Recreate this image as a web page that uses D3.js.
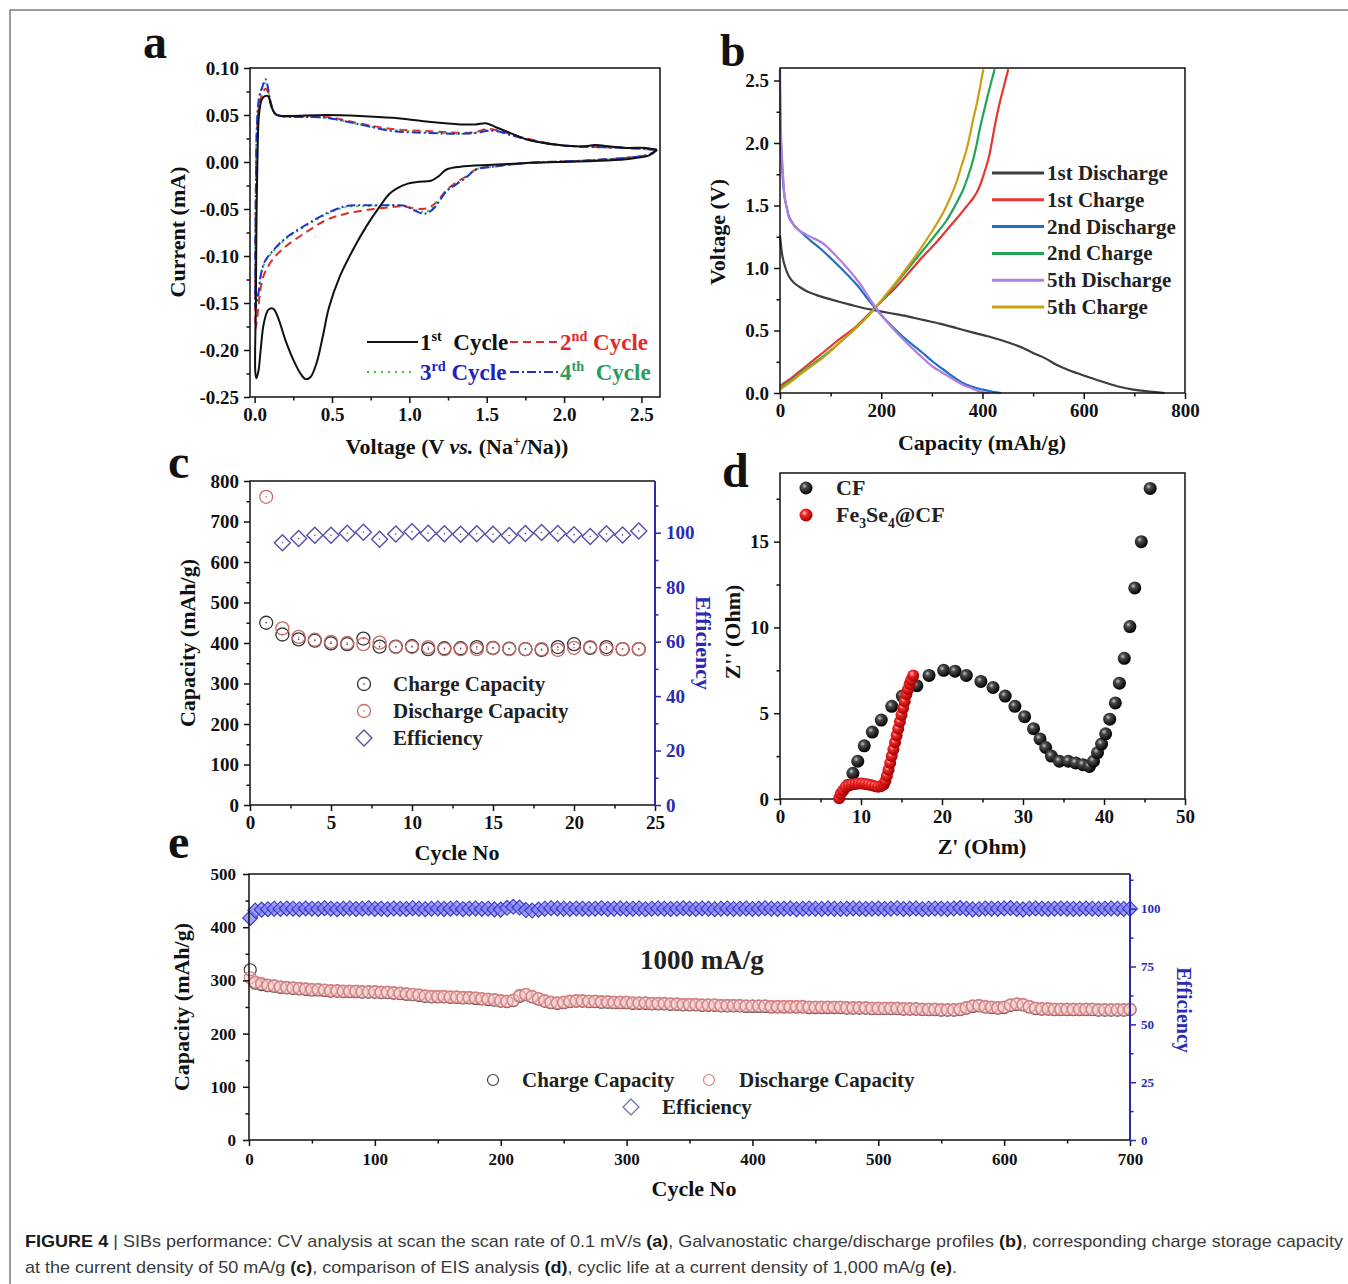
<!DOCTYPE html>
<html>
<head>
<meta charset="utf-8">
<script src="https://cdn.jsdelivr.net/npm/d3@7"></script>
<style>body{margin:0;background:#fff}</style>
</head>
<body>
<script>
// ---------- (a) CV curves, [voltage V, current mA] ----------
const cvCycle1 = [[2.60,0.013],[2.55,0.007],[2.40,0.003],[2.19,0.001],[1.96,0.0],[1.76,-0.001],[1.54,-0.003],[1.33,-0.005],[1.24,-0.008],[1.19,-0.015],[1.14,-0.020],[1.06,-0.021],[0.99,-0.023],[0.92,-0.028],[0.87,-0.034],[0.81,-0.047],[0.72,-0.069],[0.64,-0.092],[0.55,-0.122],[0.48,-0.155],[0.44,-0.186],[0.40,-0.214],[0.36,-0.229],[0.33,-0.231],[0.30,-0.226],[0.26,-0.214],[0.20,-0.190],[0.15,-0.165],[0.12,-0.156],[0.09,-0.157],[0.06,-0.171],[0.04,-0.198],[0.025,-0.222],[0.012,-0.230],[0.005,-0.225],[0.008,-0.150],[0.012,-0.060],[0.018,0.0],[0.028,0.050],[0.045,0.066],[0.065,0.070],[0.088,0.070],[0.108,0.059],[0.14,0.050],[0.20,0.049],[0.46,0.050],[0.68,0.049],[0.89,0.047],[1.11,0.043],[1.33,0.040],[1.43,0.040],[1.50,0.041],[1.56,0.037],[1.65,0.031],[1.76,0.024],[1.97,0.018],[2.12,0.0165],[2.20,0.018],[2.30,0.0165],[2.40,0.015],[2.53,0.015],[2.60,0.013]];
const cvCycle2 = [[2.60,0.013],[2.55,0.008],[2.19,0.002],[1.76,-0.001],[1.54,-0.005],[1.43,-0.008],[1.37,-0.015],[1.30,-0.022],[1.24,-0.030],[1.20,-0.038],[1.16,-0.045],[1.12,-0.049],[1.08,-0.050],[1.02,-0.049],[0.95,-0.047],[0.88,-0.048],[0.77,-0.050],[0.59,-0.055],[0.46,-0.062],[0.33,-0.075],[0.20,-0.090],[0.12,-0.103],[0.065,-0.118],[0.04,-0.133],[0.026,-0.152],[0.015,-0.168],[0.006,-0.178],[0.004,-0.150],[0.008,-0.040],[0.015,0.030],[0.03,0.062],[0.05,0.072],[0.07,0.078],[0.085,0.075],[0.10,0.065],[0.13,0.052],[0.17,0.049],[0.46,0.048],[0.68,0.041],[0.89,0.035],[1.11,0.033],[1.33,0.031],[1.43,0.032],[1.50,0.035],[1.56,0.034],[1.65,0.030],[1.76,0.025],[1.97,0.018],[2.19,0.016],[2.40,0.015],[2.60,0.013]];
const cvCycle3 = [[2.60,0.013],[2.55,0.008],[2.19,0.002],[1.76,-0.001],[1.54,-0.005],[1.43,-0.008],[1.37,-0.016],[1.30,-0.023],[1.24,-0.031],[1.20,-0.039],[1.16,-0.047],[1.12,-0.052],[1.09,-0.053],[1.04,-0.051],[0.98,-0.047],[0.92,-0.046],[0.85,-0.046],[0.70,-0.047],[0.59,-0.048],[0.46,-0.056],[0.33,-0.068],[0.20,-0.082],[0.12,-0.095],[0.065,-0.107],[0.04,-0.121],[0.026,-0.140],[0.015,-0.150],[0.006,-0.152],[0.004,-0.120],[0.008,-0.030],[0.015,0.040],[0.03,0.068],[0.05,0.078],[0.07,0.084],[0.085,0.078],[0.10,0.066],[0.13,0.052],[0.17,0.049],[0.46,0.047],[0.68,0.040],[0.89,0.034],[1.11,0.032],[1.33,0.030],[1.43,0.031],[1.50,0.034],[1.56,0.033],[1.65,0.029],[1.76,0.024],[1.97,0.018],[2.19,0.016],[2.40,0.015],[2.60,0.013]];
const cvCycle4 = [[2.60,0.013],[2.55,0.008],[2.19,0.002],[1.76,-0.001],[1.54,-0.005],[1.43,-0.008],[1.37,-0.016],[1.30,-0.024],[1.24,-0.031],[1.20,-0.040],[1.16,-0.049],[1.12,-0.054],[1.09,-0.055],[1.04,-0.052],[0.98,-0.047],[0.92,-0.046],[0.85,-0.046],[0.70,-0.046],[0.59,-0.047],[0.46,-0.055],[0.33,-0.067],[0.20,-0.081],[0.12,-0.094],[0.065,-0.106],[0.04,-0.120],[0.026,-0.138],[0.015,-0.148],[0.006,-0.155],[0.004,-0.120],[0.008,-0.030],[0.015,0.040],[0.03,0.070],[0.05,0.080],[0.07,0.088],[0.085,0.080],[0.10,0.066],[0.13,0.052],[0.17,0.049],[0.46,0.047],[0.68,0.040],[0.89,0.033],[1.11,0.031],[1.33,0.030],[1.43,0.031],[1.50,0.033],[1.56,0.033],[1.65,0.029],[1.76,0.024],[1.97,0.018],[2.19,0.016],[2.40,0.015],[2.60,0.013]];

// ---------- (b) charge/discharge profiles, [capacity mAh/g, voltage V] ----------
const dis1st = [[0,1.26],[2,1.18],[5,1.09],[10,1.01],[18,0.93],[28,0.88],[38,0.85],[55,0.81],[71,0.785],[95,0.755],[117,0.73],[140,0.705],[164,0.68],[190,0.66],[216,0.64],[250,0.615],[282,0.585],[315,0.555],[348,0.52],[380,0.485],[414,0.45],[454,0.40],[480,0.36],[500,0.32],[525,0.275],[546,0.226],[566,0.19],[586,0.16],[615,0.12],[645,0.08],[670,0.05],[698,0.027],[730,0.012],[760,0]];
const chg1st = [[0,0.053],[8,0.08],[18,0.106],[50,0.21],[84,0.32],[117,0.43],[150,0.53],[170,0.61],[190,0.69],[210,0.77],[230,0.85],[256,0.97],[282,1.09],[310,1.21],[335,1.33],[352,1.41],[368,1.49],[380,1.55],[388,1.60],[395,1.66],[401,1.73],[408,1.82],[414,1.91],[419,2.02],[424,2.13],[430,2.25],[437,2.37],[444,2.48],[451,2.59]];
const dis2nd = [[0,2.59],[0.5,2.3],[2,1.97],[5,1.75],[9,1.57],[14,1.47],[18,1.41],[28,1.34],[38,1.30],[60,1.22],[84,1.14],[110,1.04],[137,0.93],[155,0.85],[170,0.77],[186,0.69],[203,0.61],[222,0.53],[243,0.45],[262,0.385],[282,0.32],[302,0.25],[322,0.19],[342,0.13],[361,0.08],[380,0.05],[401,0.027],[420,0.01],[437,0]];
const chg2nd = [[0,0.04],[18,0.09],[50,0.19],[84,0.29],[117,0.40],[150,0.52],[170,0.60],[190,0.69],[210,0.78],[230,0.88],[256,1.01],[282,1.14],[306,1.26],[329,1.38],[346,1.50],[361,1.62],[372,1.74],[381,1.86],[388,1.98],[394,2.10],[402,2.24],[411,2.39],[418,2.50],[424,2.59]];
const dis5th = [[0,2.59],[0.5,2.3],[3,1.97],[6,1.75],[9,1.57],[14,1.47],[18,1.40],[28,1.34],[38,1.30],[60,1.25],[84,1.20],[110,1.10],[137,0.98],[155,0.89],[170,0.80],[186,0.70],[203,0.61],[222,0.52],[243,0.43],[262,0.355],[282,0.28],[302,0.21],[322,0.16],[342,0.11],[361,0.066],[380,0.035],[394,0.013],[405,0.003],[414,0]];
const chg5th = [[0,0.027],[18,0.08],[50,0.18],[84,0.28],[117,0.40],[150,0.52],[170,0.60],[190,0.69],[210,0.79],[230,0.89],[256,1.03],[282,1.18],[303,1.31],[322,1.44],[336,1.56],[348,1.68],[358,1.81],[368,1.94],[375,2.06],[381,2.18],[388,2.30],[394,2.42],[398,2.51],[402,2.59]];
const profileNames = ["1st Discharge", "1st Charge", "2nd Discharge", "2nd Charge", "5th Discharge", "5th Charge"];

// ---------- (c) cycling at 50 mA/g ----------
const cyclesC = [1,2,3,4,5,6,7,8,9,10,11,12,13,14,15,16,17,18,19,20,21,22,23,24];
const chargeC = [450,421,409,406,399,397,411,391,391,392,385,387,387,390,388,386,385,383,390,397,388,390,385,385];
const dischargeC = [761,436,415,408,403,400,397,401,390,390,390,385,385,385,387,385,385,385,383,388,390,385,385,385];
const efficiencyC = [null,96.3,97.9,99.1,99.1,99.8,100.2,97.6,99.5,100.4,99.8,99.6,99.4,99.6,99.4,99.0,99.7,100.1,99.7,99.3,98.6,99.6,99.2,100.6];

// ---------- (d) EIS Nyquist, Z' and Z'' in Ohm ----------
const cfZre = [8.4,9.0,9.6,10.4,11.4,12.5,13.8,15.1,16.9,18.4,20.2,21.6,23.0,24.8,26.3,27.8,29.0,30.2,31.3,32.1,32.8,33.5,34.5,35.6,36.5,37.4,38.2,38.7,39.2,39.7,40.2,40.7,41.4,41.9,42.5,43.2,43.8,44.6,45.7];
const cfZim = [0.8,1.5,2.2,3.1,3.9,4.6,5.4,6.0,6.6,7.2,7.5,7.45,7.2,6.85,6.5,6.0,5.4,4.8,4.1,3.5,3.0,2.5,2.2,2.2,2.1,2.0,1.9,2.2,2.7,3.2,3.8,4.65,5.6,6.75,8.2,10.05,12.3,15.0,18.1];
const feZre = [7.3,7.5,7.8,8.1,8.5,8.9,9.3,9.7,10.1,10.5,10.9,11.3,11.7,12.1,12.5,12.8,13.0,13.2,13.4,13.6,13.8,14.0,14.2,14.4,14.6,14.8,15.0,15.2,15.4,15.6,15.8,16.0,16.2,16.45];
const feZim = [0.05,0.3,0.5,0.7,0.8,0.85,0.88,0.9,0.9,0.88,0.85,0.8,0.75,0.72,0.75,0.85,1.05,1.35,1.7,2.1,2.5,2.9,3.3,3.7,4.1,4.5,4.9,5.3,5.7,6.1,6.4,6.7,6.95,7.2];

// ---------- (e) long cycling at 1000 mA/g, every 5th cycle ----------
const cyclesE = d3.range(0, 701, 5).map(c => c === 0 ? 1 : c);
const chargeE = [
  320,295,292,290,289,287,286,285,284,283,
  282,282,281,280,280,279,279,279,278,278,
  278,277,277,276,275,274,273,272,270,269,
  269,269,268,268,267,267,266,265,264,263,
  261,260,262,270,273,269,265,261,258,257,
  258,260,261,261,260,260,259,259,258,258,
  258,257,257,257,256,256,256,255,255,254,
  254,254,253,253,253,252,252,252,252,251,
  251,251,251,250,250,250,250,250,250,249,
  249,249,249,249,249,248,248,248,248,247,
  247,247,247,247,246,246,246,245,245,245,
  244,244,244,245,248,251,252,250,249,248,
  249,253,255,254,250,247,246,246,245,245,
  245,245,245,245,245,244,244,244,244,244,
  245];
const dischargeE = [
  305,297,294,291,290,288,287,286,285,284,
  283,283,282,281,281,280,280,280,279,279,
  279,278,278,277,276,275,274,273,271,270,
  270,270,269,269,268,268,267,266,265,264,
  262,261,263,272,274,270,266,262,259,258,
  259,261,262,262,261,261,260,260,259,259,
  259,258,258,258,257,257,257,256,256,255,
  255,255,254,254,254,253,253,253,253,252,
  252,252,252,251,251,251,251,251,251,250,
  250,250,250,250,250,249,249,249,249,248,
  248,248,248,248,247,247,247,246,246,246,
  245,245,245,246,249,252,253,251,250,249,
  250,254,256,255,251,248,247,247,246,246,
  246,246,246,246,246,245,245,245,245,245,
  246];
const efficiencyE = [
  96.0,99.2,99.6,99.8,100.0,99.9,100.1,100.0,99.8,100.1,
  100.0,99.9,100.2,100.0,99.8,100.0,100.1,99.9,100.0,100.2,
  99.9,100.0,99.8,100.1,100.0,99.9,100.2,100.0,99.8,100.0,
  100.1,99.9,100.0,100.2,99.8,100.0,100.1,99.9,100.0,99.7,
  99.6,100.4,100.8,100.5,99.4,99.2,99.6,100.0,100.2,100.1,
  100.0,99.9,100.1,100.0,99.9,100.0,100.2,99.9,100.0,100.1,
  99.9,100.0,100.1,99.8,100.0,100.1,100.0,99.9,100.0,100.2,
  100.0,99.9,100.1,100.0,99.8,100.0,100.1,99.9,100.0,100.1,
  99.9,100.0,100.2,100.0,99.9,100.0,100.1,99.8,100.0,100.1,
  100.0,99.9,100.1,100.0,99.9,100.0,100.1,100.0,99.9,100.0,
  100.1,99.9,100.0,100.2,99.9,100.0,100.1,99.8,100.0,100.1,
  100.0,99.9,100.1,100.3,100.0,99.7,99.8,100.1,100.0,100.0,
  100.1,100.3,99.9,99.7,100.0,100.1,100.0,99.9,100.0,100.1,
  100.0,99.9,100.0,100.1,100.0,99.9,100.0,100.1,100.0,99.9,
  100.0];

// ---------- drawing ----------
const SERIF = "'Liberation Serif','Times New Roman',serif";
const BLUE_AX = "#2a2ab4";
const TITLE = 22;   // axis title size
const LEG = 21;     // legend text size

const svg = d3.select("body").append("svg")
  .attr("width", 1348).attr("height", 1284)
  .style("display", "block").style("background", "#fff");

// outer frame of the figure
svg.append("rect").attr("x", 10).attr("y", 10).attr("width", 1360).attr("height", 1300)
  .attr("fill", "none").attr("stroke", "#7a7a7a").attr("stroke-width", 1.5);

function rich(g, x, y, parts, o = {}) {
  const size = o.size || 19;
  const t = g.append("text").attr("x", x).attr("y", y)
    .attr("font-family", SERIF).attr("font-weight", "bold")
    .attr("font-size", size).attr("fill", o.fill || "#111")
    .attr("text-anchor", o.anchor || "start")
    .style("white-space", "pre");
  if (o.transform) t.attr("transform", o.transform);
  let shift = 0;
  parts.forEach(p => {
    if (typeof p === "string") p = { t: p };
    const target = p.sup ? -size * 0.38 : p.sub ? size * 0.25 : 0;
    const ts = t.append("tspan").text(p.t).attr("dy", target - shift);
    shift = target;
    if (p.sup || p.sub) ts.attr("font-size", size * 0.62);
    if (p.it) ts.attr("font-style", "italic");
    if (p.fill) ts.attr("fill", p.fill);
  });
  return t;
}

function drawAxes(g, x, y, o) {
  const [x0, x1] = x.range(), [y0, y1] = y.range();
  g.append("g").attr("transform", `translate(0,${y0})`)
    .call(d3.axisBottom(x).tickValues(o.xMajor).tickFormat(o.xFmt).tickSize(6).tickPadding(o.pad || 5));
  g.append("g").attr("transform", `translate(0,${y0})`)
    .call(d3.axisBottom(x).tickValues(o.xMinor).tickFormat("").tickSize(3.5));
  g.append("g").attr("transform", `translate(${x0},0)`)
    .call(d3.axisLeft(y).tickValues(o.yMajor).tickFormat(o.yFmt).tickSize(6).tickPadding(o.pad || 5));
  g.append("g").attr("transform", `translate(${x0},0)`)
    .call(d3.axisLeft(y).tickValues(o.yMinor).tickFormat("").tickSize(3.5));
  g.selectAll(".domain").remove();
  g.selectAll(".tick line").attr("stroke", "#111").attr("stroke-width", 1.5);
  g.selectAll(".tick text").attr("font-family", SERIF).attr("font-weight", "bold")
    .attr("font-size", o.fs).attr("fill", "#111");

  if (o.right) {
    const r = o.right;
    const ra = g.append("g").attr("transform", `translate(${x1},0)`);
    ra.append("g").call(d3.axisRight(r.scale).tickValues(r.major).tickFormat(r.fmt).tickSize(6).tickPadding(5));
    ra.append("g").call(d3.axisRight(r.scale).tickValues(r.minor).tickFormat("").tickSize(3.5));
    ra.selectAll(".domain").remove();
    ra.selectAll(".tick line").attr("stroke", BLUE_AX).attr("stroke-width", 1.5);
    ra.selectAll(".tick text").attr("font-family", SERIF).attr("font-weight", "bold")
      .attr("font-size", r.fs).attr("fill", BLUE_AX);
    g.append("path").attr("d", `M${x1},${y1}H${x0}V${y0}H${x1}`)
      .attr("fill", "none").attr("stroke", "#111").attr("stroke-width", 1.5);
    g.append("line").attr("x1", x1).attr("x2", x1).attr("y1", y1).attr("y2", y0 + 1)
      .attr("stroke", BLUE_AX).attr("stroke-width", 2);
  } else {
    g.append("rect").attr("x", x0).attr("y", y1).attr("width", x1 - x0).attr("height", y0 - y1)
      .attr("fill", "none").attr("stroke", "#111").attr("stroke-width", 1.5);
  }
}

const fmt = d => v => v.toFixed(d);

// ===== panel a =====
{
  const g = svg.append("g");
  const x = d3.scaleLinear().domain([-0.03, 2.62]).range([250, 660]);
  const y = d3.scaleLinear().domain([-0.25, 0.10]).range([397, 68]);
  const line = d3.line().x(d => x(d[0])).y(d => y(d[1])).curve(d3.curveCatmullRom.alpha(0.5));
  const styles = [
    { data: cvCycle2, color: "#e02a2a", dash: "8,5" },
    { data: cvCycle3, color: "#3cc23c", dash: "2,4" },
    { data: cvCycle4, color: "#2233cc", dash: "9,3,2,3" },
    { data: cvCycle1, color: "#111", dash: null }
  ];
  styles.forEach(s => {
    g.append("path").attr("d", line(s.data)).attr("fill", "none")
      .attr("stroke", s.color).attr("stroke-width", 2)
      .attr("stroke-dasharray", s.dash);
  });
  drawAxes(g, x, y, {
    xMajor: [0, 0.5, 1.0, 1.5, 2.0, 2.5], xMinor: [0.25, 0.75, 1.25, 1.75, 2.25], xFmt: fmt(1),
    yMajor: [-0.25, -0.2, -0.15, -0.1, -0.05, 0, 0.05, 0.1], yMinor: [-0.225, -0.175, -0.125, -0.075, -0.025, 0.025, 0.075],
    yFmt: fmt(2), fs: 19
  });
  // legend
  const lg = [
    { x1: 367, x2: 418, y: 342, color: "#111", dash: null, tx: 420, parts: ["1", { t: "st", sup: true }, "  Cycle"], fill: "#111" },
    { x1: 510, x2: 558, y: 342, color: "#e02a2a", dash: "8,5", tx: 560, parts: ["2", { t: "nd", sup: true }, " Cycle"], fill: "#e02a2a" },
    { x1: 367, x2: 413, y: 372, color: "#3cc23c", dash: "2,5", tx: 420, parts: ["3", { t: "rd", sup: true }, " Cycle"], fill: "#2222bb" },
    { x1: 510, x2: 558, y: 372, color: "#2233cc", dash: "9,3,2,3", tx: 560, parts: ["4", { t: "th", sup: true }, "  Cycle"], fill: "#2e9a5e" }
  ];
  lg.forEach(d => {
    g.append("line").attr("x1", d.x1).attr("x2", d.x2).attr("y1", d.y).attr("y2", d.y)
      .attr("stroke", d.color).attr("stroke-width", 2).attr("stroke-dasharray", d.dash);
    rich(g, d.tx, d.y + 8, d.parts, { size: 23, fill: d.fill });
  });
  rich(g, 0, 0, ["Current (mA)"], { size: TITLE, anchor: "middle", transform: "translate(185,232) rotate(-90)" });
  rich(g, 457, 454, ["Voltage (V ", { t: "vs.", it: true }, " (Na", { t: "+", sup: true }, "/Na))"], { size: TITLE, anchor: "middle" });
  rich(g, 143, 58, ["a"], { size: 48 });
}

// ===== panel b =====
{
  const g = svg.append("g");
  const x = d3.scaleLinear().domain([0, 800]).range([780, 1185]);
  const y = d3.scaleLinear().domain([0, 2.6]).range([393, 68]);
  const line = d3.line().x(d => x(d[0])).y(d => y(d[1])).curve(d3.curveCatmullRom.alpha(0.5));
  const curves = [dis1st, chg1st, dis2nd, chg2nd, dis5th, chg5th];
  const colors = ["#3d3d3d", "#e8352f", "#1f6fc8", "#22a457", "#b47de0", "#c9a10e"];
  const order = [0, 1, 3, 5, 2, 4];
  order.forEach(i => {
    g.append("path").attr("d", line(curves[i])).attr("fill", "none")
      .attr("stroke", colors[i]).attr("stroke-width", 2.2);
  });
  drawAxes(g, x, y, {
    xMajor: [0, 200, 400, 600, 800], xMinor: [100, 300, 500, 700], xFmt: d3.format("d"),
    yMajor: [0, 0.5, 1.0, 1.5, 2.0, 2.5], yMinor: [0.25, 0.75, 1.25, 1.75, 2.25], yFmt: fmt(1), fs: 19
  });
  profileNames.forEach((n, i) => {
    const yy = 173 + i * 26.8;
    g.append("line").attr("x1", 992).attr("x2", 1044).attr("y1", yy).attr("y2", yy)
      .attr("stroke", colors[i]).attr("stroke-width", 3);
    rich(g, 1047, yy + 7, [n], { size: LEG, fill: "#222" });
  });
  rich(g, 0, 0, ["Voltage (V)"], { size: TITLE, anchor: "middle", transform: "translate(725,232) rotate(-90)" });
  rich(g, 982, 450, ["Capacity (mAh/g)"], { size: TITLE, anchor: "middle" });
  rich(g, 720, 66, ["b"], { size: 46 });
}

// ===== panel c =====
{
  const g = svg.append("g");
  const x = d3.scaleLinear().domain([0, 25]).range([250, 655]);
  const y = d3.scaleLinear().domain([0, 800]).range([805, 481]);
  const y2 = d3.scaleLinear().domain([0, 119]).range([805, 481]);
  drawAxes(g, x, y, {
    xMajor: [0, 5, 10, 15, 20, 25], xMinor: [2.5, 7.5, 12.5, 17.5, 22.5], xFmt: d3.format("d"),
    yMajor: d3.range(0, 801, 100), yMinor: d3.range(50, 800, 100), yFmt: d3.format("d"), fs: 19,
    right: { scale: y2, major: [0, 20, 40, 60, 80, 100], minor: [10, 30, 50, 70, 90, 110], fmt: d3.format("d"), fs: 19 }
  });
  const pts = cyclesC.map((c, i) => ({ c, ch: chargeC[i], dis: dischargeC[i], eff: efficiencyC[i] }));
  const ring = (sel, cx, cy, col) => {
    sel.append("circle").attr("cx", cx).attr("cy", cy).attr("r", 6.5)
      .attr("fill", "none").attr("stroke", col).attr("stroke-width", 1.3);
    sel.append("circle").attr("cx", cx).attr("cy", cy).attr("r", 0.8).attr("fill", col);
  };
  const dia = (sel, cx, cy, col, s) => {
    sel.append("path").attr("d", `M${cx},${cy - s}L${cx + s},${cy}L${cx},${cy + s}L${cx - s},${cy}Z`)
      .attr("fill", "none").attr("stroke", col).attr("stroke-width", 1.4);
  };
  pts.forEach(p => ring(g, x(p.c), y(p.ch), "#333"));
  pts.forEach(p => ring(g, x(p.c), y(p.dis), "#c86a6a"));
  pts.filter(p => p.eff != null).forEach(p => {
    dia(g, x(p.c), y2(p.eff), "#5151a8", 8);
    g.append("circle").attr("cx", x(p.c)).attr("cy", y2(p.eff)).attr("r", 0.8).attr("fill", "#5151a8");
  });
  // legend
  ring(g, 364, 684, "#333");
  ring(g, 364, 711, "#c86a6a");
  dia(g, 364, 738, "#5151a8", 8);
  ["Charge Capacity", "Discharge Capacity", "Efficiency"].forEach((t, i) =>
    rich(g, 393, 691 + i * 27, [t], { size: LEG, fill: "#222" }));
  rich(g, 0, 0, ["Capacity (mAh/g)"], { size: TITLE, anchor: "middle", transform: "translate(195,643) rotate(-90)" });
  rich(g, 0, 0, ["Efficiency"], { size: TITLE, anchor: "middle", fill: BLUE_AX, transform: "translate(696,643) rotate(90)" });
  rich(g, 457, 860, ["Cycle No"], { size: TITLE, anchor: "middle" });
  rich(g, 168, 478, ["c"], { size: 48 });
}

// ===== panel d =====
{
  const g = svg.append("g");
  const defs = svg.append("defs");
  const grad = (id, stops) => {
    const rg = defs.append("radialGradient").attr("id", id).attr("cx", "38%").attr("cy", "35%").attr("r", "65%");
    stops.forEach(s => rg.append("stop").attr("offset", s[0]).attr("stop-color", s[1]));
  };
  grad("ballBlack", [["0%", "#c8c8c8"], ["30%", "#4a4a4a"], ["100%", "#000"]]);
  grad("ballRed", [["0%", "#ffc8c8"], ["35%", "#f02525"], ["100%", "#a00000"]]);
  const x = d3.scaleLinear().domain([0, 50]).range([780, 1185]);
  const y = d3.scaleLinear().domain([0, 19]).range([799, 473]);
  drawAxes(g, x, y, {
    xMajor: [0, 10, 20, 30, 40, 50], xMinor: [5, 15, 25, 35, 45], xFmt: d3.format("d"),
    yMajor: [0, 5, 10, 15], yMinor: [2.5, 7.5, 12.5, 17.5], yFmt: d3.format("d"), fs: 19
  });
  g.selectAll("circle.cf").data(cfZre.map((v, i) => [v, cfZim[i]])).join("circle")
    .attr("class", "cf").attr("cx", d => x(d[0])).attr("cy", d => y(d[1])).attr("r", 6.5)
    .attr("fill", "url(#ballBlack)");
  g.selectAll("circle.fe").data(feZre.map((v, i) => [v, feZim[i]])).join("circle")
    .attr("class", "fe").attr("cx", d => x(d[0])).attr("cy", d => y(d[1])).attr("r", 6)
    .attr("fill", "url(#ballRed)");
  g.append("circle").attr("cx", 806).attr("cy", 488).attr("r", 6.5).attr("fill", "url(#ballBlack)");
  g.append("circle").attr("cx", 806).attr("cy", 515).attr("r", 6.5).attr("fill", "url(#ballRed)");
  rich(g, 836, 495, ["CF"], { size: 22, fill: "#222" });
  rich(g, 836, 522, ["Fe", { t: "3", sub: true }, "Se", { t: "4", sub: true }, "@CF"], { size: 22, fill: "#222" });
  rich(g, 0, 0, ["Z'' (Ohm)"], { size: TITLE, anchor: "middle", transform: "translate(740,632) rotate(-90)" });
  rich(g, 982, 854, ["Z' (Ohm)"], { size: TITLE, anchor: "middle" });
  rich(g, 722, 487, ["d"], { size: 48 });
}

// ===== panel e =====
{
  const g = svg.append("g");
  const x = d3.scaleLinear().domain([0, 700]).range([249, 1130]);
  const y = d3.scaleLinear().domain([0, 500]).range([1140, 874]);
  const y2 = d3.scaleLinear().domain([0, 115]).range([1140, 874]);
  const pts = cyclesE.map((c, i) => ({ c, ch: chargeE[i], dis: dischargeE[i], eff: efficiencyE[i] }));
  g.selectAll("path.eff").data(pts).join("path").attr("class", "eff")
    .attr("d", d => { const cx = x(d.c), cy = y2(d.eff), s = 7.5; return `M${cx},${cy - s}L${cx + s},${cy}L${cx},${cy + s}L${cx - s},${cy}Z`; })
    .attr("fill", "#7c7cf0").attr("fill-opacity", 0.7).attr("stroke", "#3535cc").attr("stroke-width", 1.1);
  g.selectAll("circle.ch").data(pts).join("circle").attr("class", "ch")
    .attr("cx", d => x(d.c)).attr("cy", d => y(d.ch)).attr("r", 6)
    .attr("fill", "none").attr("stroke", "#4a3a3a").attr("stroke-width", 1.2);
  g.selectAll("circle.dis").data(pts).join("circle").attr("class", "dis")
    .attr("cx", d => x(d.c)).attr("cy", d => y(d.dis)).attr("r", 6)
    .attr("fill", "#f3c9c9").attr("fill-opacity", 0.55).attr("stroke", "#d88080").attr("stroke-width", 1.2);
  drawAxes(g, x, y, {
    xMajor: d3.range(0, 701, 100), xMinor: d3.range(50, 700, 100), xFmt: d3.format("d"),
    yMajor: d3.range(0, 501, 100), yMinor: d3.range(50, 500, 100), yFmt: d3.format("d"), fs: 17, pad: 7,
    right: { scale: y2, major: [0, 25, 50, 75, 100], minor: [12.5, 37.5, 62.5, 87.5, 112.5], fmt: d3.format("d"), fs: 13 }
  });
  // legend
  g.append("circle").attr("cx", 493).attr("cy", 1080).attr("r", 5.5).attr("fill", "none").attr("stroke", "#444").attr("stroke-width", 1.2);
  g.append("circle").attr("cx", 709).attr("cy", 1080).attr("r", 5.5).attr("fill", "none").attr("stroke", "#d88080").attr("stroke-width", 1.2);
  g.append("path").attr("d", "M631,1099L639,1107L631,1115L623,1107Z").attr("fill", "none").attr("stroke", "#6a6aa8").attr("stroke-width", 1.2);
  rich(g, 522, 1087, ["Charge Capacity"], { size: LEG, fill: "#222" });
  rich(g, 739, 1087, ["Discharge Capacity"], { size: LEG, fill: "#222" });
  rich(g, 662, 1114, ["Efficiency"], { size: LEG, fill: "#222" });
  rich(g, 640, 969, ["1000 mA/g"], { size: 27, fill: "#222" });
  rich(g, 0, 0, ["Capacity (mAh/g)"], { size: TITLE, anchor: "middle", transform: "translate(189,1007) rotate(-90)" });
  rich(g, 0, 0, ["Efficiency"], { size: 20, anchor: "middle", fill: BLUE_AX, transform: "translate(1177,1010) rotate(90)" });
  rich(g, 694, 1196, ["Cycle No"], { size: TITLE, anchor: "middle" });
  rich(g, 168, 858, ["e"], { size: 48 });
}

// ===== caption =====
{
  const SANS = "'Liberation Sans Narrow','Liberation Sans',Arial,sans-serif";
  const lines = [
    { y: 1247, w: 1318, parts: [["FIGURE 4", true], [" | ", false], ["SIBs performance: CV analysis at scan the scan rate of 0.1 mV/s ", false], ["(a)", true], [", Galvanostatic charge/discharge profiles ", false], ["(b)", true], [", corresponding charge storage capacity", false]] },
    { y: 1273, w: 932, parts: [["at the current density of 50 mA/g ", false], ["(c)", true], [", comparison of EIS analysis ", false], ["(d)", true], [", cyclic life at a current density of 1,000 mA/g ", false], ["(e)", true], [".", false]] }
  ];
  lines.forEach(l => {
    const t = svg.append("text").attr("x", 25).attr("y", l.y)
      .attr("font-family", SANS).attr("font-size", 17).attr("fill", "#3a3a3a")
      .attr("textLength", l.w).attr("lengthAdjust", "spacingAndGlyphs");
    l.parts.forEach(p => t.append("tspan").text(p[0])
      .attr("font-weight", p[1] ? "bold" : "normal").attr("fill", p[1] ? "#1a1a1a" : "#3a3a3a"));
  });
}
</script>
</body>
</html>
